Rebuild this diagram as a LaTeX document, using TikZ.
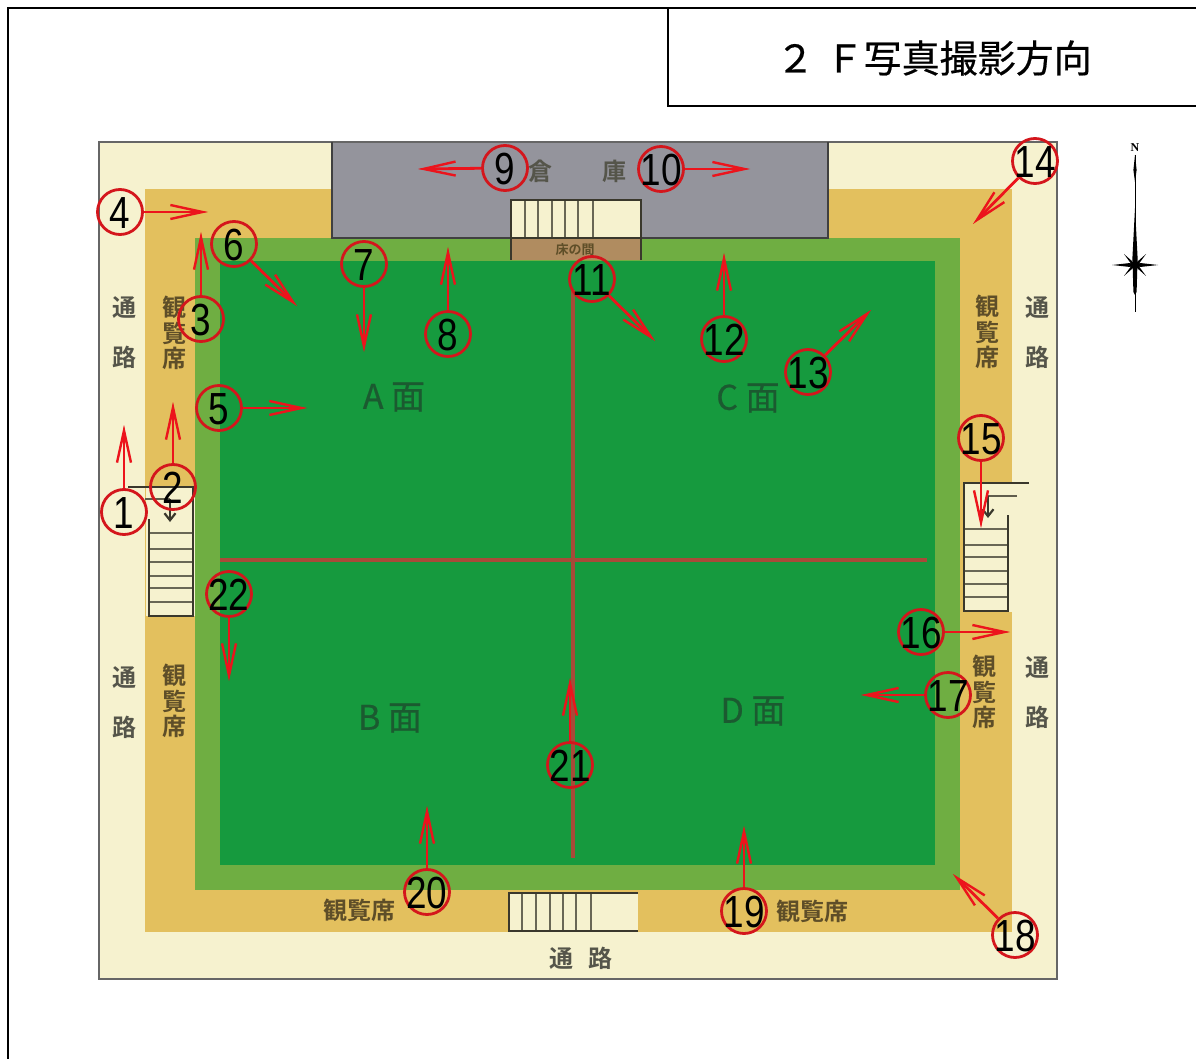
\documentclass[tikz,border=0pt]{standalone}
\usepackage{fontspec}
\setmainfont{Liberation Sans}
\newfontfamily\jp{Noto Sans CJK JP}
\newfontfamily\jpb{Noto Sans CJK JP Bold}
\newfontfamily\jpm{Noto Sans CJK JP}[FakeBold=0.5]
\newfontfamily\serifN{Liberation Serif}
\usetikzlibrary{arrows.meta}
\definecolor{creamc}{HTML}{F6F2CF}
\definecolor{goldc}{HTML}{E3C05E}
\definecolor{lgreen}{HTML}{6FAE42}
\definecolor{dgreen}{HTML}{169A3E}
\definecolor{grayc}{HTML}{94949C}
\definecolor{brownc}{HTML}{B08C60}
\definecolor{redc}{HTML}{EC141C}
\definecolor{ringc}{HTML}{D4161C}
\definecolor{crossc}{HTML}{A84A38}
\definecolor{seatc}{HTML}{5E4E28}
\definecolor{roadc}{HTML}{55554A}
\definecolor{facec}{HTML}{1B5A30}
\definecolor{stairc}{HTML}{3A382C}
\newcommand{\numtext}[1]{\raisebox{-0.358em}[0pt][0pt]{\makebox[0pt][c]{\scalebox{0.82}[1]{#1}}}}
\tikzset{
  numc/.style={circle,draw=ringc,line width=2.8pt,minimum size=45pt,inner sep=0pt,text=black,
    font=\fontsize{45}{45}\selectfont},
  arr/.style={draw=redc,line width=2.8pt,-{Straight Barb[length=32pt,width=14pt,line width=2.4pt,sep=-20pt] Stealth[length=20pt,width=6pt]}},
  lab/.style={inner sep=0pt,align=center},
  seat/.style={lab,text=seatc,font=\jpb\fontsize{24}{25.5}\selectfont},
  road/.style={lab,text=roadc,font=\jpb\fontsize{24}{50}\selectfont},
  facelab/.style={lab,text=facec,font=\jpm\fontsize{34}{34}\selectfont},
  tread/.style={draw=stairc!75!creamc,line width=2.4pt},
  swall/.style={draw=stairc,line width=2.8pt},
}
\begin{document}
\begin{tikzpicture}[x=1pt,y=-1pt]
\useasboundingbox (0,0) rectangle (1196,1059);
\fill[white] (0,0) rectangle (1196,1059);
% page frame
\draw[black,line width=2pt] (8,1059) -- (8,8) -- (1196,8);
\draw[black,line width=2pt] (668,8) -- (668,106) -- (1196,106);
\node[lab,font=\jpm\fontsize{38}{38}\selectfont] (title) at (934,58) {２\hspace{0.3em}Ｆ写真撮影方向};
% plan
\fill[creamc] (99,142) rectangle (1057,979);
\fill[goldc] (145,189) rectangle (1012,932);
\fill[grayc] (332,142) rectangle (828,238);
\fill[lgreen] (195,238) rectangle (960,890);
\fill[dgreen] (220,261) rectangle (935,865);
\draw[gray!80!black,line width=2pt] (99,142) rectangle (1057,979);
\draw[gray!50!black,line width=1.5pt] (332,142) -- (332,238) -- (828,238) -- (828,142);
% cross
\draw[crossc,line width=3.4pt] (573,290) -- (573,858);
\draw[crossc,line width=3.4pt] (220,560) -- (927,560);
% top stairs
\fill[creamc] (511,200) rectangle (641,238);
\fill[brownc] (511,238) rectangle (641,260);
\foreach \v in {525,538,552,565,578,593} \draw[tread] (\v,200) -- (\v,238);
\draw[swall] (511,260) -- (511,200) -- (641,200) -- (641,260);
\draw[swall] (511,238) -- (641,238);
\node[lab,text=seatc,font=\jpb\fontsize{13}{13}\selectfont] (tokonoma) at (575,250) {床の間};
% bottom stairs
\fill[creamc] (508,893) rectangle (638,932);
\foreach \v in {522,536,550,563,576,591} \draw[tread] (\v,893) -- (\v,931);
\draw[swall] (638,893) -- (509,893) -- (509,931) -- (638,931);
% left stairs
\fill[creamc] (146,487) rectangle (195,616);
\foreach \v in {533,549,562,576,588,602} \draw[tread] (149,\v) -- (193,\v);
\draw[swall] (128,487) -- (193,487) -- (193,616) -- (149,616) -- (149,519);
\draw[stairc!80!creamc,line width=2.4pt] (145,499) -- (170,499);
\draw[stairc,line width=2.4pt,-{Straight Barb[length=7pt,width=11pt,line width=2.2pt]}] (170,499) -- (170,522);
% right stairs
\fill[creamc] (964,483) rectangle (1012,612);
\foreach \v in {529,545,557,571,584,597} \draw[tread] (964,\v) -- (1008,\v);
\draw[swall] (1029,483) -- (964,483) -- (964,611) -- (1008,611) -- (1008,515);
\draw[stairc!80!creamc,line width=2.4pt] (1017,496) -- (988,496);
\draw[stairc,line width=2.4pt,-{Straight Barb[length=7pt,width=11pt,line width=2.2pt]}] (988,496) -- (988,518);
% labels
\node[lab,text=roadc,font=\jpb\fontsize{24}{24}\selectfont] (kura1) at (540,171) {倉};
\node[lab,text=roadc,font=\jpb\fontsize{24}{24}\selectfont] (kura2) at (614,171) {庫};
\node[road] (r1) at (124,333) {通\\路};
\node[road] (r2) at (124,703) {通\\路};
\node[road] (r3) at (1037,333) {通\\路};
\node[road] (r4) at (1037,693) {通\\路};
\node[lab,text=roadc,font=\jpb\fontsize{24}{24}\selectfont] (r5) at (581,958) {通\hspace{0.6em}路};
\node[seat] (s1) at (174,333) {観\\覧\\席};
\node[seat] (s2) at (174,701) {観\\覧\\席};
\node[seat] (s3) at (987,332) {観\\覧\\席};
\node[seat] (s4) at (984,692) {観\\覧\\席};
\node[seat] (s5) at (359,910) {観覧席};
\node[seat] (s6) at (812,911) {観覧席};
\node[facelab] (fa) at (394,397) {A 面};
\node[facelab] (fc) at (748,398) {C 面};
\node[facelab] (fb) at (390,718) {B 面};
\node[facelab] (fd) at (753,711) {D 面};
% numbered view points
\foreach \n/\cx/\cy/\ex/\ey in {
 1/124/512/124/425, 2/173/487/173/402, 3/201/319/201/232, 4/120/212/208/212,
 5/219/408/307/408, 6/234/244/297/306, 7/364/264/364/352, 8/448/334/448/247,
 9/505/168/418/169, 10/661/169/750/169, 11/592/279/655/341, 12/724/339/724/253,
 13/808/372/871/310, 14/1035/161/973/224, 15/981/438/981/528, 16/921/632/1010/632,
 17/948/695/861/695, 18/1015/935/953/874, 19/744/911/744/826, 20/427/892/427/806,
 21/570/765/570/678, 22/229/594/229/681}{
  \node[numc] (n\n) at (\cx,\cy) {\numtext{\n}};
  \coordinate (e\n) at (\ex,\ey);
  \draw[arr] (n\n) -- (e\n);
}
% compass
\node[lab,font=\serifN\bfseries\fontsize{12}{12}\selectfont] (north) at (1135,148) {N};
\draw[black,line width=1pt] (1135,155) -- (1135,312);
\fill[black] (1135,155) -- (1136.6,170) -- (1135,182) -- (1133.4,170) -- cycle;
\fill[black] (1135,208) -- (1137.6,258) -- (1136.6,292) -- (1135,295) -- (1133.4,292) -- (1132.4,258) -- cycle;
\fill[black] (1112,265) -- (1130,263) -- (1135,265) -- (1130,267) -- cycle;
\fill[black] (1158,265) -- (1140,263) -- (1135,265) -- (1140,267) -- cycle;
\fill[black] (1124,254) -- (1133,262) -- (1136,266) -- (1132,265) -- cycle;
\fill[black] (1146,254) -- (1137,262) -- (1134,266) -- (1138,265) -- cycle;
\fill[black] (1124,276) -- (1133,268) -- (1136,264) -- (1132,265) -- cycle;
\fill[black] (1146,276) -- (1137,268) -- (1134,264) -- (1138,265) -- cycle;
\end{tikzpicture}
\end{document}
